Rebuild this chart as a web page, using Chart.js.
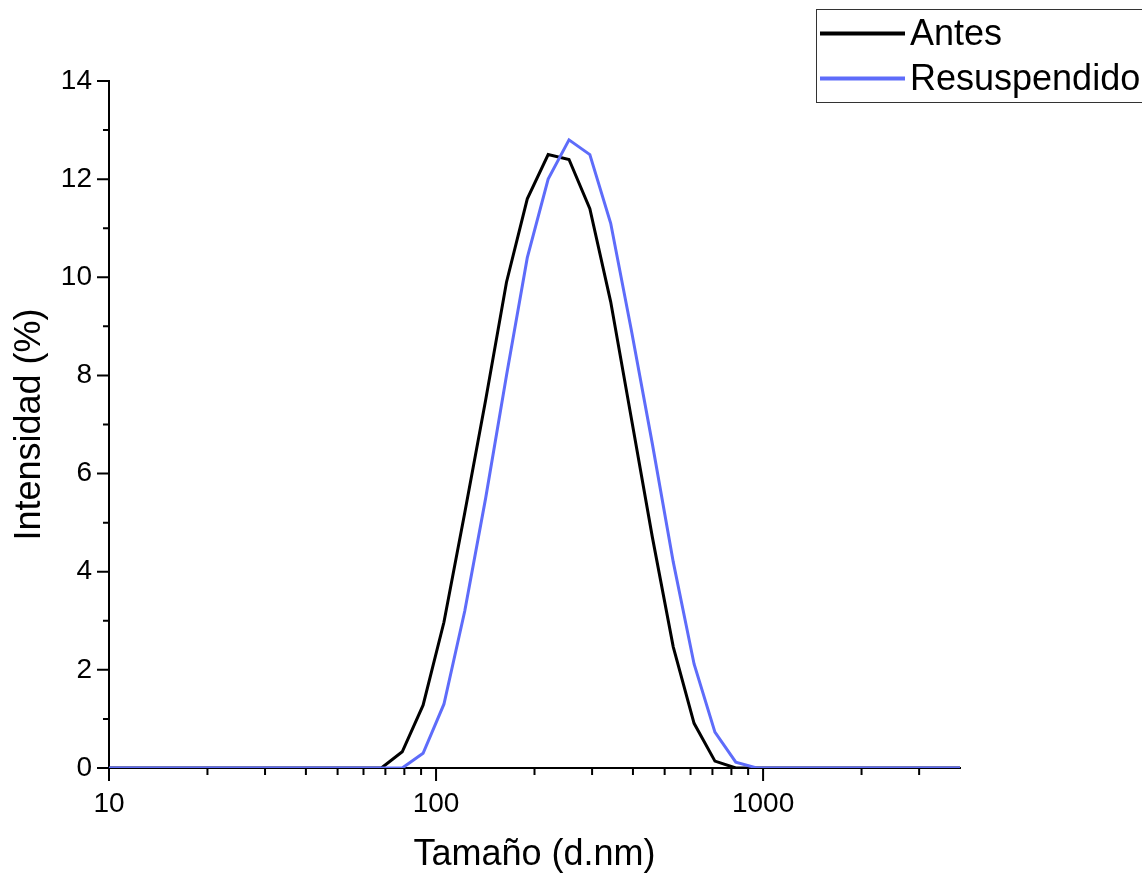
<!DOCTYPE html>
<html>
<head>
<meta charset="utf-8">
<script src="https://cdn.jsdelivr.net/npm/chart.js@4/dist/chart.umd.min.js"></script>
<style>
  html, body { margin: 0; padding: 0; background: #fff; overflow: hidden; }
  #wrap { width: 1142px; height: 873px; }
</style>
</head>
<body>
<div id="wrap"><canvas id="dls" width="1142" height="873"></canvas></div>
<script>
// --- datos (tamaño en d.nm, intensidad en %) ---
const sizes = [8.721, 10.10, 11.70, 13.54, 15.69, 18.17, 21.04, 24.36, 28.21, 32.67, 37.84, 43.82,
  50.75, 58.77, 68.06, 78.82, 91.28, 105.7, 122.4, 141.8, 164.2, 190.1, 220.2, 255.0, 295.3,
  342.0, 396.1, 458.7, 531.2, 615.1, 712.4, 825.0, 955.4, 1106, 1281, 1484, 1718, 1990, 2305,
  2669, 3091, 3580, 4145];
const antes = [0, 0, 0, 0, 0, 0, 0, 0, 0, 0, 0, 0,
  0, 0, 0, 0.33, 1.28, 2.97, 5.2, 7.5, 9.9, 11.6, 12.5, 12.4, 11.4,
  9.5, 7.1, 4.7, 2.47, 0.91, 0.14, 0, 0, 0, 0, 0, 0, 0, 0,
  0, 0, 0, 0];
const resuspendido = [0, 0, 0, 0, 0, 0, 0, 0, 0, 0, 0, 0,
  0, 0, 0, 0, 0.3, 1.3, 3.2, 5.5, 8.0, 10.4, 12.0, 12.8, 12.5,
  11.1, 8.9, 6.6, 4.2, 2.12, 0.73, 0.12, 0, 0, 0, 0, 0, 0, 0,
  0, 0, 0, 0];
const seriesLabels = ['Antes', 'Resuspendido'];
const xMajor = [10, 100, 1000];
const xMinor = [20, 30, 40, 50, 60, 70, 80, 90, 200, 300, 400, 500, 600, 700, 800, 900, 2000, 3000];
const yMajor = [0, 2, 4, 6, 8, 10, 12, 14];
const yMinor = [1, 3, 5, 7, 9, 11, 13];

const FONT = '"Liberation Sans", Arial, sans-serif';
const BLUE = '#5e6cfa';

const toXY = (arr) => arr.map((v, i) => ({ x: sizes[i], y: v }));

// marcas de los ejes (mayores y menores), dibujadas con las escalas
const axisTicks = {
  id: 'axisTicks',
  afterDraw(chart) {
    const { ctx, chartArea, scales } = chart;
    ctx.save();
    ctx.strokeStyle = '#000';
    ctx.lineWidth = 2;
    ctx.beginPath();
    xMajor.forEach(v => { const p = scales.x.getPixelForValue(v); ctx.moveTo(p, chartArea.bottom); ctx.lineTo(p, chartArea.bottom + 13); });
    xMinor.forEach(v => { const p = scales.x.getPixelForValue(v); ctx.moveTo(p, chartArea.bottom); ctx.lineTo(p, chartArea.bottom + 7); });
    yMajor.forEach(v => { const p = scales.y.getPixelForValue(v); ctx.moveTo(chartArea.left, p); ctx.lineTo(chartArea.left - 12, p); });
    yMinor.forEach(v => { const p = scales.y.getPixelForValue(v); ctx.moveTo(chartArea.left, p); ctx.lineTo(chartArea.left - 6, p); });
    ctx.stroke();
    ctx.restore();
  }
};

// leyenda en caja, arriba a la derecha
const boxLegend = {
  id: 'boxLegend',
  afterDraw(chart) {
    const { ctx } = chart;
    const colors = ['#000', BLUE];
    const rows = [33.5, 78.5];
    ctx.save();
    ctx.strokeStyle = '#333';
    ctx.lineWidth = 1;
    ctx.strokeRect(816.5, 9.5, 400, 93);
    ctx.font = '36px ' + FONT;
    ctx.textBaseline = 'middle';
    ctx.fillStyle = '#000';
    seriesLabels.forEach((lbl, i) => {
      const y = rows[i];
      ctx.strokeStyle = colors[i];
      ctx.lineWidth = 4;
      ctx.beginPath();
      ctx.moveTo(820, y);
      ctx.lineTo(905, y);
      ctx.stroke();
      ctx.fillText(lbl, 910, y + 2);
    });
    ctx.restore();
  }
};

new Chart(document.getElementById('dls'), {
  type: 'line',
  data: {
    datasets: [
      { label: seriesLabels[0], data: toXY(antes), borderColor: '#000', borderWidth: 3, order: 1 },
      { label: seriesLabels[1], data: toXY(resuspendido), borderColor: BLUE, borderWidth: 3, order: 0 }
    ]
  },
  options: {
    responsive: false,
    animation: false,
    layout: { padding: { left: 0, top: 81, right: 182, bottom: 0 } },
    elements: { point: { radius: 0 }, line: { tension: 0, borderJoinStyle: 'miter' } },
    plugins: { legend: { display: false }, tooltip: { enabled: false } },
    scales: {
      x: {
        type: 'logarithmic',
        min: 10, max: 4000,
        afterBuildTicks: (s) => { s.ticks = xMajor.map(v => ({ value: v })); },
        afterFit: (s) => { s.height = 105; },
        grid: { display: false, drawTicks: false },
        border: { display: true, color: '#000', width: 2 },
        ticks: { color: '#000', padding: 19, maxRotation: 0, autoSkip: false, font: { family: FONT, size: 28 }, callback: (v) => String(v) },
        title: { display: true, text: 'Tamaño (d.nm)', color: '#000', font: { family: FONT, size: 36, lineHeight: 1 }, padding: { top: 0, bottom: 0 } }
      },
      y: {
        min: 0, max: 14,
        afterBuildTicks: (s) => { s.ticks = yMajor.map(v => ({ value: v })); },
        afterFit: (s) => { s.width = 109; },
        grid: { display: false, drawTicks: false },
        border: { display: true, color: '#000', width: 2 },
        ticks: { color: '#000', padding: 17, font: { family: FONT, size: 28 } },
        title: { display: true, text: 'Intensidad (%)', color: '#000', font: { family: FONT, size: 36, lineHeight: 1 }, padding: { top: 12, bottom: 0 } }
      }
    }
  },
  plugins: [axisTicks, boxLegend]
});
</script>
</body>
</html>
